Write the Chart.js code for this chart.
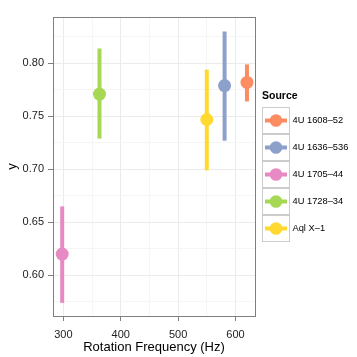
<!DOCTYPE html>
<html><head><meta charset="utf-8">
<script src="https://cdn.jsdelivr.net/npm/chart.js@4/dist/chart.umd.min.js"></script>
<style>html,body{margin:0;padding:0;background:#fff}#wrap{width:357px;height:357px}</style>
</head><body><div id="wrap"><canvas id="c" width="357" height="357"></canvas></div>
<script>
const sources = ['4U 1608\u201352','4U 1636\u2013536','4U 1705\u201344','4U 1728\u201334','Aql X\u20131'];
const freq = [620, 581, 298, 363, 550];
const yVal = [0.782, 0.779, 0.620, 0.771, 0.747];
const yLow = [0.764, 0.727, 0.574, 0.729, 0.699];
const yHigh = [0.799, 0.830, 0.665, 0.814, 0.794];
const colors = ['#FC8D62','#8DA0CB','#E78AC3','#A6D854','#FFD92F'];
const xTicks = [300, 400, 500, 600];
const xMinor = [350, 450, 550];
const yTicks = [0.60, 0.65, 0.70, 0.75, 0.80];
const yMinor = [0.575, 0.625, 0.675, 0.725, 0.775, 0.825];

const FONT = '"Liberation Sans", Arial, sans-serif';
const inList = (v, list) => list.some(t => Math.abs(t - v) < 1e-6);

const datasets = sources.map((s,i)=>({
  label: s,
  data: [{x: freq[i], y: yVal[i], lo: yLow[i], hi: yHigh[i]}],
  backgroundColor: colors[i], borderColor: colors[i],
  pointRadius: 6.5, pointHoverRadius: 6.5, borderWidth: 0
}));

const panelPlugin = {
  id: 'panel',
  beforeDatasetsDraw(chart){
    const {ctx, scales:{x, y}} = chart;
    ctx.save();
    chart.data.datasets.forEach(ds=>{
      ds.data.forEach(p=>{
        const px = x.getPixelForValue(p.x);
        ctx.strokeStyle = ds.borderColor; ctx.lineWidth = 4; ctx.lineCap='butt';
        ctx.beginPath(); ctx.moveTo(px, y.getPixelForValue(p.lo)); ctx.lineTo(px, y.getPixelForValue(p.hi)); ctx.stroke();
      });
    });
    ctx.restore();
  },
  afterDraw(chart){
    const {ctx, chartArea:a} = chart;
    ctx.save();
    ctx.strokeStyle = '#7F7F7F'; ctx.lineWidth = 1;
    ctx.strokeRect(Math.round(a.left)+0.5, Math.round(a.top)+0.5, Math.round(a.right-a.left), Math.round(a.bottom-a.top));
    const x0 = a.right + 7, key = 27, kw = 28, n = sources.length;
    const top = 107;
    ctx.fillStyle = '#000'; ctx.font = 'bold 10.5px ' + FONT; ctx.textBaseline='middle'; ctx.textAlign='left';
    ctx.fillText('Source', x0, top - 10.5);
    sources.forEach((s,i)=>{
      const ky = top + i*key;
      ctx.fillStyle = '#fff'; ctx.fillRect(x0, ky, kw, key);
      ctx.strokeStyle = '#CCCCCC'; ctx.lineWidth = 1; ctx.strokeRect(x0+0.5, ky+0.5, kw-1, key-1);
      ctx.strokeStyle = colors[i]; ctx.lineWidth = 4;
      ctx.beginPath(); ctx.moveTo(x0+3, ky+key/2); ctx.lineTo(x0+kw-3, ky+key/2); ctx.stroke();
      ctx.fillStyle = colors[i]; ctx.beginPath(); ctx.arc(x0+kw/2, ky+key/2, 6.3, 0, Math.PI*2); ctx.fill();
      ctx.fillStyle = '#000'; ctx.font = '9.3px ' + FONT;
      ctx.fillText(s, x0 + kw + 2.5, ky + key/2);
    });
    ctx.restore();
  }
};

new Chart(document.getElementById('c'), {
  type: 'scatter',
  data: { datasets },
  plugins: [panelPlugin],
  options: {
    responsive: false, animation: false, devicePixelRatio: 1,
    layout: { padding: { left: 0, top: 17, right: 102, bottom: 0 } },
    plugins: { legend: { display: false }, tooltip: { enabled: false } },
    scales: {
      x: {
        type: 'linear', min: 282, max: 634,
        afterBuildTicks(s){ s.ticks = xTicks.concat(xMinor).sort((a,b)=>a-b).map(v=>({value:v})); },
        afterFit(s){ s.height = 41; },
        border: { display: false },
        grid: {
          color: c => inList(c.tick.value, xTicks) ? '#EBEBEB' : '#F5F5F5',
          tickColor: c => inList(c.tick.value, xTicks) ? '#7F7F7F' : 'rgba(0,0,0,0)',
          tickLength: 5, lineWidth: 1
        },
        ticks: {
          autoSkip: false, maxRotation: 0, padding: 7,
          color: '#222', font: { family: FONT, size: 11 },
          callback: v => inList(v, xTicks) ? String(v) : ''
        },
        title: { display: true, text: 'Rotation Frequency (Hz)', color: '#000',
          font: { family: FONT, size: 13 }, padding: { top: 0, bottom: 2 } }
      },
      y: {
        type: 'linear', min: 0.5616, max: 0.8437,
        afterBuildTicks(s){ s.ticks = yTicks.concat(yMinor).sort((a,b)=>a-b).map(v=>({value:v})); },
        afterFit(s){ s.width = 53; },
        border: { display: false },
        grid: {
          color: c => inList(c.tick.value, yTicks) ? '#EBEBEB' : '#F5F5F5',
          tickColor: c => inList(c.tick.value, yTicks) ? '#7F7F7F' : 'rgba(0,0,0,0)',
          tickLength: 5, lineWidth: 1
        },
        ticks: {
          autoSkip: false, padding: 4,
          color: '#222', font: { family: FONT, size: 11 },
          callback: v => inList(v, yTicks) ? v.toFixed(2) : ''
        },
        title: { display: true, text: 'y', color: '#000',
          font: { family: FONT, size: 13 }, padding: { top: 5, bottom: 0 } }
      }
    }
  }
});
</script></body></html>
